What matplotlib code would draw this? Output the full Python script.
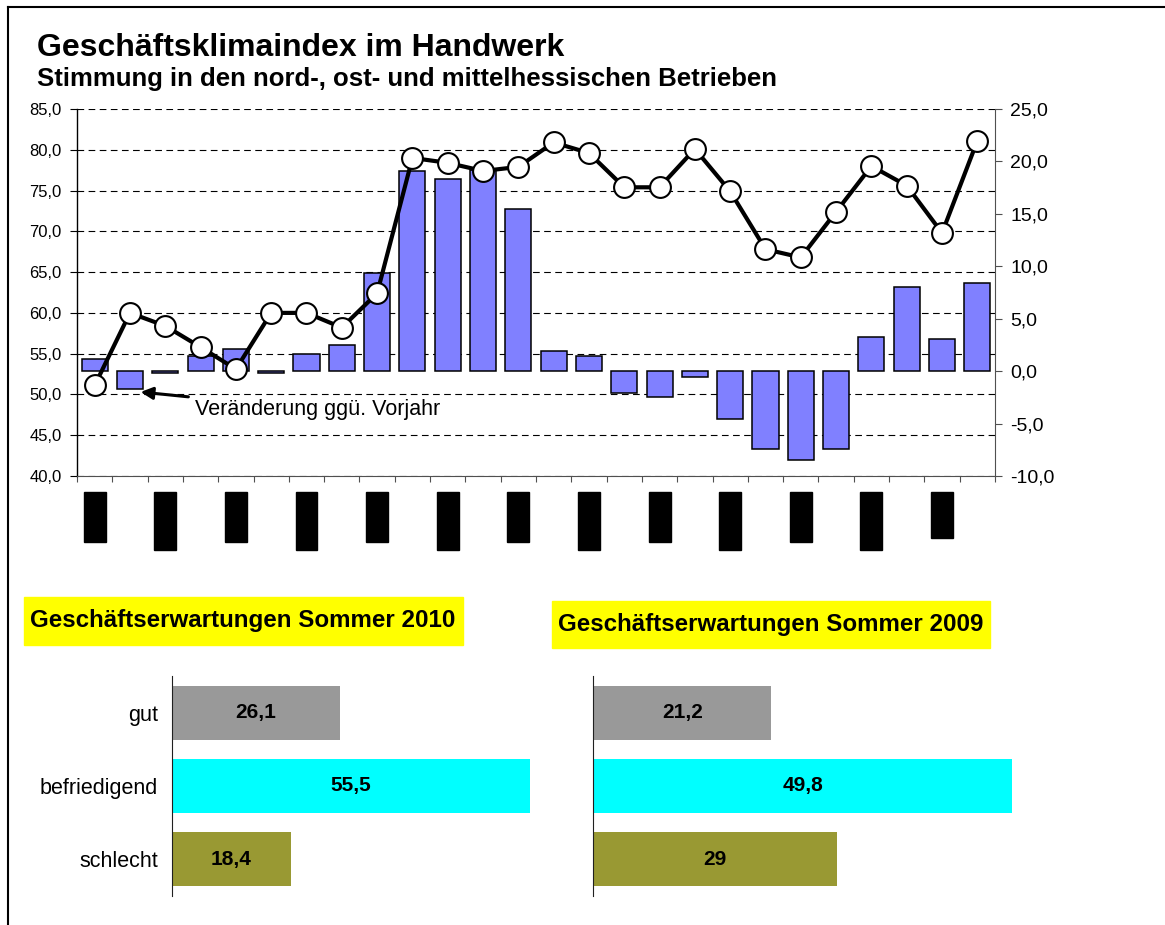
import numpy as np
import matplotlib
matplotlib.use('Agg')
import matplotlib.pyplot as plt
import matplotlib.transforms as mtransforms
from matplotlib.patches import Rectangle
from matplotlib.lines import Line2D

plt.rcParams['font.family'] = ['Liberation Sans', 'DejaVu Sans']

# Geschaeftsklimaindex (left axis) and Veraenderung ggue. Vorjahr (right axis)
klima = [51.1, 60.0, 58.4, 55.8, 53.1, 60.0, 60.0, 58.2, 62.4, 79.0, 78.4, 77.4, 77.9,
         80.9, 79.6, 75.4, 75.4, 80.1, 74.9, 67.8, 66.8, 72.4, 78.0, 75.6, 69.8, 81.1]
veraenderung = [1.2, -1.7, -0.2, 1.4, 2.1, -0.2, 1.6, 2.5, 9.4, 19.1, 18.3, 19.2, 15.5,
                1.9, 1.4, -2.1, -2.5, -0.6, -4.6, -7.4, -8.5, -7.4, 3.3, 8.0, 3.1, 8.4]
# period labels are blacked out in the source -> black boxes under every 2nd period (px length)
label_box_len = [50, 58, 50, 58, 50, 58, 50, 58, 50, 58, 50, 58, 46]

erw_kategorien = ['gut', 'befriedigend', 'schlecht']
erw_2010 = [26.1, 55.5, 18.4]
erw_2009 = [21.2, 49.8, 29]
erw_farben = ['#999999', '#00FFFF', '#999933']

W, H = 1165, 925
def fpos(x0, y0, x1, y1):
    # pixel box (top-left origin) -> figure fraction rect
    return [x0 / W, 1 - y1 / H, (x1 - x0) / W, (y1 - y0) / H]

fig = plt.figure(figsize=(W / 100, H / 100), dpi=100)

# frame
fig.add_artist(Line2D([8 / W, 1], [1 - 7 / H, 1 - 7 / H], color='black', lw=1.5))
fig.add_artist(Line2D([8 / W, 8 / W], [0, 1 - 7 / H], color='black', lw=1.5))

fig.text(37 / W, 1 - 56 / H, 'Geschäftsklimaindex im Handwerk', fontsize=23, fontweight='bold', va='baseline')
fig.text(37 / W, 1 - 86 / H, 'Stimmung in den nord-, ost- und mittelhessischen Betrieben',
         fontsize=18.5, fontweight='bold', va='baseline')

## top chart
x = np.arange(len(klima))
ax = fig.add_axes(fpos(77, 109, 995, 476))
ax_bar = ax.twinx()
ax_line = ax.twinx()

ax.set_xlim(-0.5, len(klima) - 0.5)
ax.set_ylim(40, 85)
yt = np.arange(40, 86, 5)
ax.set_yticks(yt)
ax.set_yticklabels(['{:.1f}'.format(v).replace('.', ',') for v in yt], fontsize=12)
ax.tick_params(axis='y', direction='out', length=5, pad=6)
ax.set_xticks(np.arange(len(klima) + 1) - 0.5)
ax.set_xticklabels([])
ax.tick_params(axis='x', direction='out', length=4, color='#505050')
ax.yaxis.grid(True, color='black', lw=0.8, linestyle=(0, (6, 4)))
ax.set_axisbelow(True)
ax.spines['top'].set_visible(False)
ax.spines['right'].set_visible(False)
ax.spines['bottom'].set_color('#505050')
ax.spines['left'].set_linewidth(1.0)

ax_bar.bar(x, veraenderung, width=0.74, color='#8080FF', edgecolor='black', lw=1.1)
ax_bar.set_ylim(-10, 25)
rt = np.arange(-10, 26, 5)
ax_bar.set_yticks(rt)
ax_bar.set_yticklabels(['{:.1f}'.format(v).replace('.', ',') for v in rt], fontsize=14)
ax_bar.tick_params(axis='y', direction='out', length=5, pad=6, color='#505050')
for s in ['top', 'left', 'bottom']:
    ax_bar.spines[s].set_visible(False)
ax_bar.spines['right'].set_color('#505050')

ax_line.plot(x, klima, color='black', lw=3, marker='o', ms=15, mfc='white', mec='black', mew=1.5,
             clip_on=False)
ax_line.set_ylim(40, 85)
ax_line.axis('off')
ax_line.annotate('Veränderung ggü. Vorjahr', xy=(1.3, 50.3), xytext=(2.85, 48.1),
                 fontsize=15.5, ha='left', va='center',
                 arrowprops=dict(arrowstyle='-|>', color='black', lw=2.2, mutation_scale=18,
                                 shrinkA=3, shrinkB=0))

# blacked-out period labels
trans = mtransforms.blended_transform_factory(ax.transData, ax.transAxes)
for i, ln in enumerate(label_box_len):
    ax.add_patch(Rectangle((2 * i - 0.31, -16 / 367 - ln / 367), 0.62, ln / 367,
                           transform=trans, color='black', clip_on=False))

## bottom charts
def erw_chart(rect, werte, xmax, titel, box, labels):
    fig.add_artist(Rectangle((box[0] / W, 1 - box[3] / H), (box[2] - box[0]) / W, (box[3] - box[1]) / H,
                             transform=fig.transFigure, color='#FFFF00'))
    fig.text((box[0] + 6) / W, 1 - (box[1] + box[3]) / 2 / H, titel, fontsize=17.4, fontweight='bold',
             va='center')
    a = fig.add_axes(rect)
    pos = np.arange(len(werte))
    a.barh(pos, werte, height=0.74, color=erw_farben)
    for p, v in zip(pos, werte):
        a.text(v / 2, p, str(v).replace('.', ','), ha='center', va='center', fontsize=15, fontweight='bold')
    a.set_xlim(0, xmax)
    a.set_ylim(len(werte) - 0.5, -0.5)
    a.set_xticks([])
    a.set_yticks(pos)
    a.set_yticklabels(erw_kategorien if labels else [], fontsize=15.5)
    a.tick_params(axis='y', length=0, pad=10)
    for s in ['top', 'right', 'bottom']:
        a.spines[s].set_visible(False)
    a.spines['left'].set_color('#202020')
    a.patch.set_visible(False)

erw_chart(fpos(172, 676, 559, 896), erw_2010, 60, 'Geschäftserwartungen Sommer 2010', (24, 597, 463, 645), True)
erw_chart(fpos(593, 676, 1056, 896), erw_2009, 55, 'Geschäftserwartungen Sommer 2009', (552, 601, 990, 648), False)

plt.savefig('out.png', dpi=100)
